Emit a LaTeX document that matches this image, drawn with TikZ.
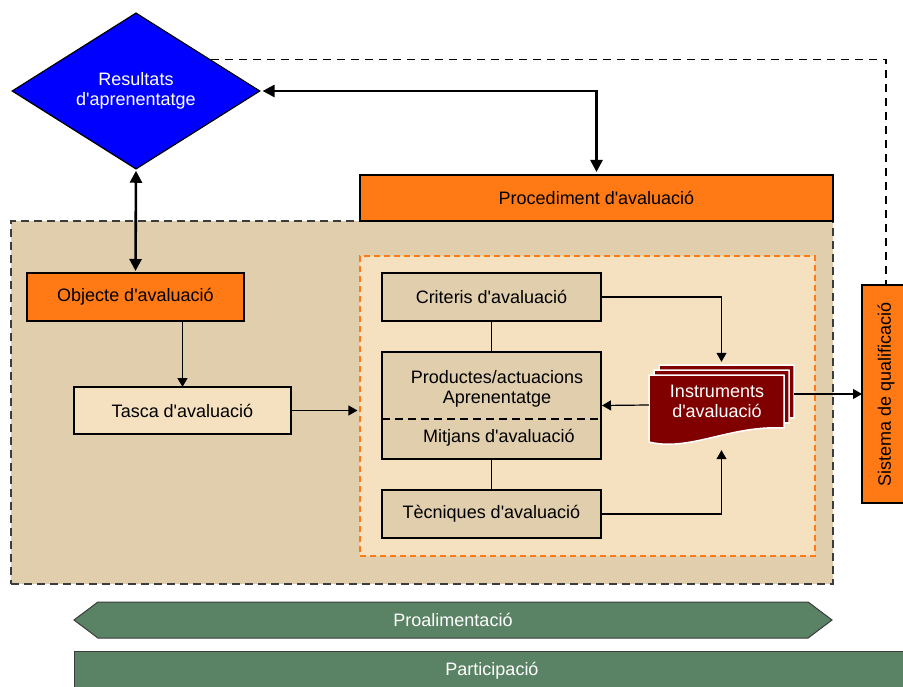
\documentclass[tikz,border=0pt]{standalone}
\usepackage{fontspec}
\setmainfont{Liberation Sans}
\usepackage{xcolor}
\usetikzlibrary{arrows.meta,positioning,shapes.geometric,shapes.symbols,calc,fit}
\definecolor{orangefill}{RGB}{255,122,21}
\definecolor{tanfill}{RGB}{224,206,172}
\definecolor{lightfill}{RGB}{245,225,192}
\definecolor{docred}{RGB}{128,0,0}
\definecolor{resblue}{RGB}{0,0,255}
\definecolor{greenfill}{RGB}{90,130,100}
\definecolor{zoneline}{RGB}{60,60,60}
\newcommand{\ap}{\textquotesingle}
\tikzset{
  box/.style={draw, line width=1.2pt, inner sep=0pt, outer sep=0pt, align=center},
  orangebox/.style={box, fill=orangefill},
  tanbox/.style={box, fill=tanfill},
  lightbox/.style={box, fill=lightfill},
  arrow/.style={-{Triangle[length=9pt,width=10pt]}, line width=1.2pt},
  boldarrow/.style={{Triangle[length=12pt,width=12pt]}-{Triangle[length=12pt,width=12pt]}, line width=2.6pt},
  page/.style={fill=docred, draw=white, line width=1.5pt, line join=round}
}

\begin{document}
\begin{tikzpicture}[x=1pt, y=-1pt, font=\fontsize{18}{20}\selectfont]
  \useasboundingbox (0,0) rectangle (903,687);

  % zones
  \node[draw=zoneline, fill=tanfill, dash pattern=on 8pt off 5pt, line width=1.2pt,
        minimum width=822pt, minimum height=363pt, inner sep=0pt] (zone) at (422,402.5) {};
  \node[draw=orangefill, fill=lightfill, dash pattern=on 6pt off 4pt, line width=1.2pt,
        minimum width=455pt, minimum height=300pt, inner sep=0pt] (inner) at (587.5,406) {};

  \node[diamond, draw, fill=resblue, text=white, line width=1.2pt, inner sep=0pt, align=center,
        minimum width=248pt, minimum height=154pt] (res) at (136,91) {Resultats\\d\ap aprenentatge};
  \node[orangebox, minimum width=473pt, minimum height=46pt] (proc) at (596.5,198) {Procediment d\ap avaluació};
  \node[orangebox, minimum width=217pt, minimum height=48pt] (obj) at (135.5,297) {Objecte d\ap avaluació};
  \node[lightbox, minimum width=217pt, minimum height=47pt] (tasca) at (182.5,410.5) {Tasca d\ap avaluació};

  \node[tanbox, minimum width=219pt, minimum height=48pt] (crit) at (491.5,297) {Criteris d\ap avaluació};
  \node[tanbox, minimum width=219pt, minimum height=107pt] (prod) at (491.5,405.5) {};
  \node[align=center] (prodtxt) at (497,389) {Productes/actuacions\\Aprenentatge};
  \node (mitj) at (499,437.5) {Mitjans d\ap avaluació};
  \draw[dash pattern=on 8pt off 5pt, line width=1.2pt] ($(prod.west)+(0,13.5)$) -- ($(prod.east)+(0,13.5)$);
  \node[tanbox, minimum width=219pt, minimum height=48pt] (tec) at (491.5,514) {Tècniques d\ap avaluació};

  % instruments (stacked pages)
  \foreach \d in {10,5,0}
    \draw[page, shift={(\d,-\d)}] (649,375) -- (784,375) -- (784,428)
      .. controls (730,425) and (690,452) .. (649,442) -- cycle;
  \node[inner sep=0pt, fit={(649,364) (794,446)}] (instr) {};
  \node[text=white, align=center] (instrtxt) at (717,401) {Instruments\\d\ap avaluació};

  \node[orangebox, minimum width=48pt, minimum height=218pt] (sis) at (886,394) {\rotatebox{90}{Sistema de qualificació}};

  \node[signal, signal to=west and east, signal pointer angle=74, draw=zoneline, line width=1pt,
        fill=greenfill, text=white, inner sep=0pt, minimum width=758pt, minimum height=36pt] (proal) at (453,620) {Proalimentació};
  \node[box, line width=1pt, draw=zoneline, fill=greenfill, text=white, minimum width=836pt, minimum height=39pt] (part) at (492,670.5) {Participació};

  % connectors
  \draw[dash pattern=on 8pt off 6pt, line width=1.2pt] ($(res.north)!0.6!(res.east)$) -| (sis.north);
  \draw[boldarrow, shorten <=2pt, shorten >=3pt] (res.east) -| (proc.north);
  \draw[boldarrow, shorten <=1pt, shorten >=2pt] (res.south) -- (obj.north);
  \draw[arrow] (obj.south -| tasca.north) -- (tasca.north);
  \draw[arrow, shorten >=2pt] (tasca.east) -- (tasca.east -| inner.west);
  \draw[line width=1.2pt] (crit.south) -- (prod.north);
  \draw[line width=1.2pt] (prod.south) -- (tec.north);
  \draw[arrow, shorten >=2pt] (crit.east) -| (instr.north);
  \draw[arrow, shorten >=4pt] (tec.east) -| (instr.south);
  \draw[arrow, shorten >=1pt] (instr.west) -- (prod.east);
  \draw[arrow] (instr.east |- sis.west) -- (sis.west);
\end{tikzpicture}
\end{document}
